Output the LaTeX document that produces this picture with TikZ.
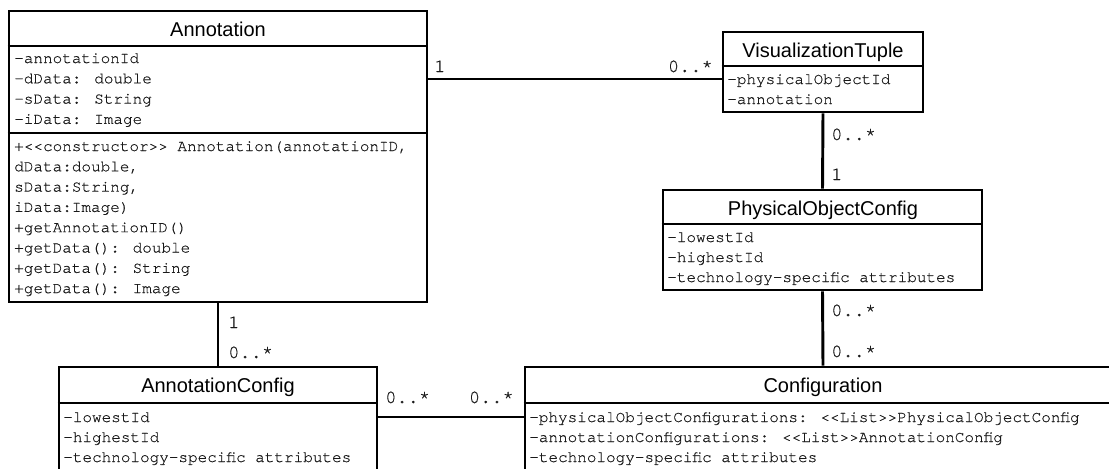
\documentclass[tikz,border=0pt]{standalone}
\usepackage{fontspec}
\setmainfont{Liberation Sans}
\newfontfamily\umlmono[FakeBold=0.4]{texgyrecursor-regular.otf}
\usetikzlibrary{fit}
\begin{document}
\begin{tikzpicture}[x=0.75pt,y=-0.75pt,
  box/.style={draw, line width=2.2pt, inner sep=0pt},
  sep/.style={line width=2.2pt},
  assoc/.style={line width=2.2pt},
  title/.style={anchor=base, inner sep=0pt, font=\fontsize{15}{18}\selectfont},
  attr/.style={anchor=base west, inner sep=0pt, text height=7.5pt, text depth=0pt,
    font=\umlmono\fontsize{12}{14}\selectfont, text=black!90},
  mult/.style={anchor=base west, inner sep=0pt, font=\umlmono\fontsize{14}{16}\selectfont, text=black!90},
  multE/.style={mult, anchor=base east}]
\useasboundingbox (0,0) rectangle (1109,468);
\clip (0,0) rectangle (1109,468);

% ---------- Annotation ----------
\node[box, fit={(9,11) (427,302)}] (ann) {};
\draw[sep] (ann.west |- 0,46) -- (ann.east |- 0,46);
\draw[sep] (ann.west |- 0,133) -- (ann.east |- 0,133);
\node[title] (annT) at (218,36) {Annotation};
\node[attr] (annA1) at (14,63) {-annotationId};
\node[attr] (annA2) at (14,83.3) {-dData: double};
\node[attr] (annA3) at (14,103.6) {-sData: String};
\node[attr] (annA4) at (14,123.9) {-iData: Image};
\node[attr] (annM1) at (14,151) {+<<constructor>> Annotation(annotationID,};
\node[attr] (annM2) at (14,171.3) {dData:double,};
\node[attr] (annM3) at (14,191.6) {sData:String,};
\node[attr] (annM4) at (14,211.9) {iData:Image)};
\node[attr] (annM5) at (14,232.2) {+getAnnotationID()};
\node[attr] (annM6) at (14,252.5) {+getData(): double};
\node[attr] (annM7) at (14,272.8) {+getData(): String};
\node[attr] (annM8) at (14,293.1) {+getData(): Image};

% ---------- VisualizationTuple ----------
\node[box, fit={(723,32) (923,112)}] (vt) {};
\draw[sep] (vt.west |- 0,66) -- (vt.east |- 0,66);
\node[title] (vtT) at (823,57) {VisualizationTuple};
\node[attr] (vtA1) at (727,84) {-physicalObjectId};
\node[attr] (vtA2) at (727,104) {-annotation};

% ---------- PhysicalObjectConfig ----------
\node[box, fit={(663,190) (982,290)}] (poc) {};
\draw[sep] (poc.west |- 0,224) -- (poc.east |- 0,224);
\node[title] (pocT) at (823,215) {PhysicalObjectConfig};
\node[attr] (pocA1) at (667,242) {-lowestId};
\node[attr] (pocA2) at (667,262) {-highestId};
\node[attr] (pocA3) at (667,282) {-technology-specific attributes};

% ---------- AnnotationConfig ----------
\node[box, fit={(59,367) (377,490)}] (ac) {};
\draw[sep] (ac.west |- 0,403) -- (ac.east |- 0,403);
\node[title] (acT) at (218,392) {AnnotationConfig};
\node[attr] (acA1) at (63,422) {-lowestId};
\node[attr] (acA2) at (63,442) {-highestId};
\node[attr] (acA3) at (63,462) {-technology-specific attributes};

% ---------- Configuration ----------
\node[box, fit={(525,367) (1121,490)}] (conf) {};
\draw[sep] (conf.west |- 0,403) -- (conf.east |- 0,403);
\node[title] (confT) at (823,392) {Configuration};
\node[attr] (confA1) at (529,422) {-physicalObjectConfigurations: <<List>>PhysicalObjectConfig};
\node[attr] (confA2) at (529,442) {-annotationConfigurations: <<List>>AnnotationConfig};
\node[attr] (confA3) at (529,462) {-technology-specific attributes};

% ---------- Associations ----------
\draw[assoc] (ann.east |- vtA1.west) -- (vt.west |- vtA1.west);
\node[mult] (m1) at (434,72) {1};
\node[multE] (m2) at (713,72) {0..*};

\draw[assoc] (vt.south) -- (poc.north);
\node[mult] (m3) at (831,140) {0..*};
\node[mult] (m4) at (831,180) {1};

\draw[assoc] (poc.south) -- (conf.north);
\node[mult] (m5) at (831,316) {0..*};
\node[mult] (m6) at (831,357) {0..*};

\draw[assoc] (ann.south) -- (ac.north);
\node[mult] (m7) at (228,328) {1};
\node[mult] (m8) at (228,358) {0..*};

\draw[assoc] (ac.east |- confA1.west) -- (conf.west |- confA1.west);
\node[mult] (m9) at (385,403) {0..*};
\node[multE] (m10) at (514,403) {0..*};
\end{tikzpicture}
\end{document}
